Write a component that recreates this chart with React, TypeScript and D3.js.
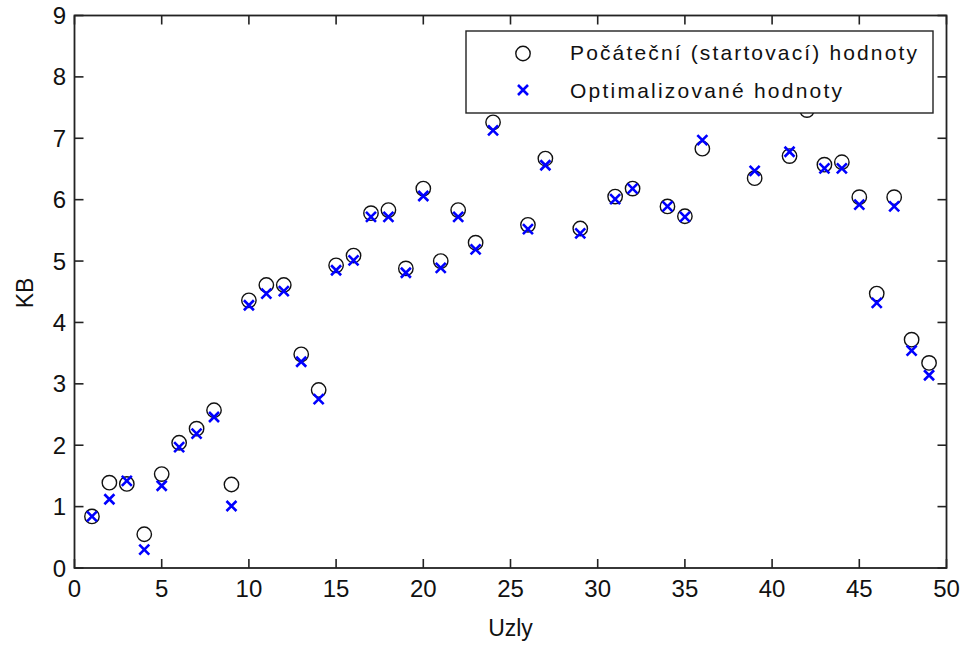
import React from 'react';
import * as d3 from 'd3';

const nodes = [1, 2, 3, 4, 5, 6, 7, 8, 9, 10, 11, 12, 13, 14, 15, 16, 17, 18, 19, 20, 21, 22, 23, 24, 26, 27, 29, 31, 32, 34, 35, 36, 39, 41, 42, 43, 44, 45, 46, 47, 48, 49];
const initialValues = [0.84, 1.39, 1.37, 0.55, 1.53, 2.04, 2.27, 2.57, 1.36, 4.36, 4.61, 4.61, 3.48, 2.90, 4.93, 5.09, 5.78, 5.83, 4.88, 6.18, 5.00, 5.83, 5.30, 7.26, 5.59, 6.67, 5.53, 6.05, 6.18, 5.89, 5.73, 6.83, 6.35, 6.71, 7.46, 6.57, 6.61, 6.04, 4.47, 6.04, 3.72, 3.34];
const optimizedValues = [0.84, 1.12, 1.42, 0.30, 1.34, 1.97, 2.19, 2.46, 1.01, 4.28, 4.47, 4.51, 3.36, 2.75, 4.85, 5.01, 5.72, 5.72, 4.81, 6.06, 4.89, 5.72, 5.19, 7.13, 5.52, 6.56, 5.45, 6.01, 6.18, 5.89, 5.72, 6.97, 6.47, 6.78, 7.55, 6.51, 6.51, 5.92, 4.32, 5.89, 3.54, 3.14];
const xTicks = [0, 5, 10, 15, 20, 25, 30, 35, 40, 45, 50];
const yTicks = [0, 1, 2, 3, 4, 5, 6, 7, 8, 9];
const seriesNames = ['Počáteční (startovací) hodnoty', 'Optimalizované hodnoty'];
const xLabel = 'Uzly';
const yLabel = 'KB';

const W = 965, H = 645;
const L = 74.5, R = 946.5, T = 15.5, B = 568;
const FONT = 'Liberation Sans, Arial, sans-serif';

const Cross = ({ cx, cy, s = 5 }: { cx: number; cy: number; s?: number }) => (
  <path d={`M${cx - s},${cy - s}L${cx + s},${cy + s}M${cx - s},${cy + s}L${cx + s},${cy - s}`} stroke="#0000ff" strokeWidth={2.6} fill="none" />
);

export default function App() {
  const x = d3.scaleLinear().domain([0, 50]).range([L, R]);
  const y = d3.scaleLinear().domain([0, 9]).range([B, T]);
  const tickLen = 9;
  return (
    <svg width={W} height={H} style={{ position: 'absolute', left: 0, top: 0, background: '#fff' }} fontFamily={FONT}>
      <rect x={0} y={0} width={W} height={H} fill="#fff" />
      {/* ticks */}
      {xTicks.map((t) => (
        <g key={'xt' + t}>
          <line x1={x(t)} x2={x(t)} y1={B} y2={B - tickLen} stroke="#222" strokeWidth={1.6} />
          <line x1={x(t)} x2={x(t)} y1={T} y2={T + tickLen} stroke="#222" strokeWidth={1.6} />
          <text x={x(t)} y={597} textAnchor="middle" fontSize={24} fill="#111">{t}</text>
        </g>
      ))}
      {yTicks.map((t) => (
        <g key={'yt' + t}>
          <line x1={L} x2={L + tickLen} y1={y(t)} y2={y(t)} stroke="#222" strokeWidth={1.6} />
          <line x1={R} x2={R - tickLen} y1={y(t)} y2={y(t)} stroke="#222" strokeWidth={1.6} />
          <text x={66} y={y(t) + 8.5} textAnchor="end" fontSize={24} fill="#111">{t}</text>
        </g>
      ))}
      <rect x={L} y={T} width={R - L} height={B - T} fill="none" stroke="#222" strokeWidth={1.8} />
      {/* data */}
      {nodes.map((n, i) => (
        <circle key={'c' + n} cx={x(n)} cy={y(initialValues[i])} r={7.2} fill="none" stroke="#111" strokeWidth={1.4} />
      ))}
      {nodes.map((n, i) => (
        <Cross key={'x' + n} cx={x(n)} cy={y(optimizedValues[i])} />
      ))}
      {/* legend */}
      <rect x={466} y={31} width={467} height={82} fill="#fff" stroke="#222" strokeWidth={1.4} />
      <circle cx={523} cy={53.5} r={7.2} fill="none" stroke="#111" strokeWidth={1.4} />
      <Cross cx={523} cy={90} />
      <text x={570} y={60} fontSize={21} fill="#111" textLength={347} lengthAdjust="spacing">{seriesNames[0]}</text>
      <text x={570} y={98} fontSize={21} fill="#111" textLength={272} lengthAdjust="spacing">{seriesNames[1]}</text>
      {/* axis labels */}
      <text x={(L + R) / 2} y={636} textAnchor="middle" fontSize={23} fill="#111">{xLabel}</text>
      <text transform={`translate(33,293) rotate(-90)`} textAnchor="middle" fontSize={23} fill="#111">{yLabel}</text>
    </svg>
  );
}
